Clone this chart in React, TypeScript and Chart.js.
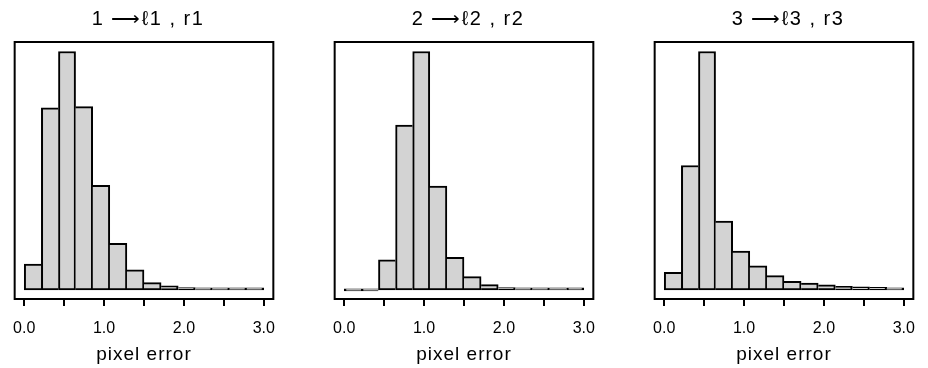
import React, { useEffect, useRef } from 'react';
import { Chart, registerables } from 'chart.js';

Chart.register(...registerables);

// ---- data ----
const PANEL_TITLES = ['1 ⟶ℓ1 , r1', '2 ⟶ℓ2 , r2', '3 ⟶ℓ3 , r3'];
const X_AXIS_TITLE = 'pixel error';
const X_TICKS = [0, 0.5, 1, 1.5, 2, 2.5, 3];
const X_TICK_LABELS = ['0.0', '', '1.0', '', '2.0', '', '3.0'];
const BIN_START = 0;
const BIN_END = 3;
// relative frequencies (tallest bin = 100), 14 equal bins over 0..3
const COUNTS_1 = [10.8, 76.4, 100, 76.9, 43.9, 19.5, 8.4, 3.1, 1.7, 1.0, 0.7, 0.6, 0.4, 0.3];
const COUNTS_2 = [0, 0, 12.6, 69.1, 100, 43.6, 13.7, 5.6, 2.2, 1.0, 0.7, 0.4, 0.3, 0.3];
const COUNTS_3 = [7.4, 52.2, 100, 28.9, 16.3, 10.1, 6.0, 3.6, 2.9, 2.1, 1.5, 1.3, 1.1, 0.7];
const PANEL_COUNTS = [COUNTS_1, COUNTS_2, COUNTS_3];

const FONT = 'Liberation Sans, Arial, Helvetica, sans-serif';
const LINE_W = 2;
const PANEL_LEFTS = [0, 320, 640];
const CANVAS_W = 288;
const CANVAS_H = 368;

function withSpacing(fn: any, spacing: string) {
  return function (this: any, ...args: any[]) {
    const c = this.ctx;
    const prev = c.letterSpacing;
    c.letterSpacing = spacing;
    fn.apply(this, args);
    c.letterSpacing = prev;
  };
}

const framePlugin = {
  id: 'frame',
  afterLayout(chart: any) {
    const sx = chart.scales.x;
    if (sx && !sx.__patched) {
      sx.drawLabels = withSpacing(sx.drawLabels, '0px');
      sx.drawTitle = withSpacing(sx.drawTitle, '1px');
      sx.__patched = true;
    }
  },
  beforeDraw(chart: any) {
    chart.ctx.letterSpacing = '1.5px';
  },
  afterDraw(chart: any) {
    const { ctx, chartArea } = chart;
    ctx.letterSpacing = '0px';
    ctx.save();
    ctx.strokeStyle = '#000';
    ctx.lineWidth = LINE_W;
    ctx.strokeRect(chartArea.left, chartArea.top, chartArea.right - chartArea.left, chartArea.bottom - chartArea.top);
    ctx.restore();
  },
};

function Panel({ title, counts, left }: { title: string; counts: number[]; left: number }) {
  const ref = useRef<HTMLCanvasElement | null>(null);
  useEffect(() => {
    if (!ref.current) return;
    const binW = (BIN_END - BIN_START) / counts.length;
    const data = counts.map((c, i) => ({ x: BIN_START + (i + 0.5) * binW, y: c }));
    const chart = new Chart(ref.current, {
      type: 'bar',
      data: {
        datasets: [
          {
            data: data as any,
            backgroundColor: '#d3d3d3',
            borderColor: '#000',
            borderSkipped: false,
            minBarLength: 2,
            barPercentage: 1,
            categoryPercentage: 1,
            borderWidth: (ctx: any) => {
              const i = ctx.dataIndex;
              if (i === undefined) return LINE_W;
              const h = counts[i];
              const l = i === 0 || h >= counts[i - 1] ? LINE_W : 0;
              const r = i === counts.length - 1 || h > counts[i + 1] ? LINE_W : 0;
              return { top: LINE_W, bottom: LINE_W, left: l, right: r };
            },
          } as any,
        ],
      },
      options: {
        responsive: false,
        maintainAspectRatio: false,
        animation: false,
        layout: { padding: { left: 13, right: 5, top: 0, bottom: 0 } },
        plugins: {
          legend: { display: false },
          tooltip: { enabled: false },
          title: {
            display: true,
            text: title,
            color: '#000',
            font: { family: FONT, size: 20, weight: 'normal' },
            padding: { top: 7, bottom: 11 },
          },
        },
        scales: {
          x: {
            type: 'linear',
            min: -0.12,
            max: 3.12,
            offset: false,
            grid: {
              offset: false,
              drawOnChartArea: false,
              drawTicks: true,
              tickLength: 7,
              color: '#000',
              lineWidth: LINE_W,
            },
            border: { display: false },
            afterBuildTicks: (scale: any) => {
              scale.ticks = X_TICKS.map((v) => ({ value: v }));
            },
            afterFit: (scale: any) => {
              scale.height = 69;
            },
            ticks: {
              autoSkip: false,
              maxRotation: 0,
              padding: 13,
              color: '#000',
              font: { family: FONT, size: 16 },
              callback: (v: any) => {
                const idx = X_TICKS.indexOf(Number(v));
                return idx >= 0 ? X_TICK_LABELS[idx] : '';
              },
            },
            title: {
              display: true,
              text: X_AXIS_TITLE,
              color: '#000',
              font: { family: FONT, size: 19 },
              padding: { top: 0, bottom: 2 },
            },
          },
          y: {
            display: false,
            min: -3.8,
            max: 104,
          },
        },
      } as any,
      plugins: [framePlugin],
    });
    return () => chart.destroy();
  }, [title, counts]);
  return (
    <canvas
      ref={ref}
      width={CANVAS_W}
      height={CANVAS_H}
      style={{ position: 'absolute', left, top: 0, width: CANVAS_W, height: CANVAS_H }}
    />
  );
}

export default function App() {
  return (
    <div
      style={{
        position: 'fixed',
        left: 0,
        top: 0,
        width: 928,
        height: 368,
        overflow: 'hidden',
        background: '#fff',
      }}
    >
      {PANEL_TITLES.map((t, i) => (
        <Panel key={i} title={t} counts={PANEL_COUNTS[i]} left={PANEL_LEFTS[i]} />
      ))}
    </div>
  );
}
